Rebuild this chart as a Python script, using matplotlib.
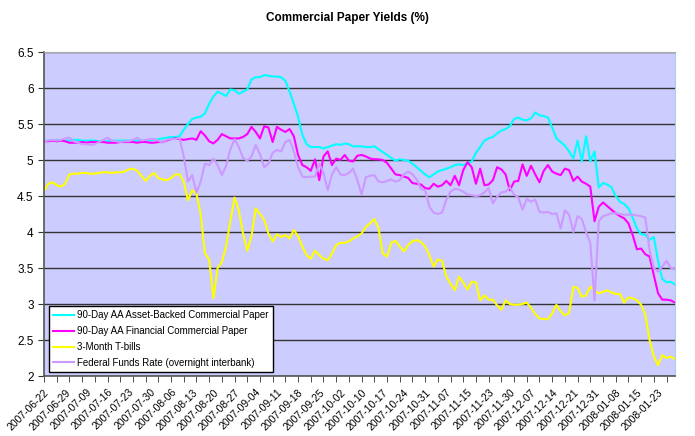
import numpy as np
import pandas as pd
import matplotlib
matplotlib.use("Agg")
import matplotlib.pyplot as plt

plt.rcParams['font.family'] = ['Liberation Sans', 'DejaVu Sans']

# business days (US bond market holidays removed)
holidays = ['2007-07-04', '2007-09-03', '2007-10-08', '2007-11-12',
            '2007-11-22', '2007-12-25', '2008-01-01', '2008-01-21']
dates = pd.bdate_range('2007-06-22', '2008-01-29', freq='C', holidays=holidays)

abcp = [5.26, 5.27, 5.27, 5.28, 5.27, 5.27, 5.27, 5.28, 5.28, 5.27,
        5.27, 5.27, 5.27, 5.26, 5.26, 5.26, 5.27, 5.27, 5.27, 5.27,
        5.27, 5.27, 5.27, 5.27, 5.27, 5.27, 5.28, 5.29, 5.30, 5.31,
        5.32, 5.32, 5.33, 5.42, 5.50, 5.57, 5.59, 5.60, 5.65, 5.78,
        5.88, 5.95, 5.92, 5.89, 5.98, 5.97, 5.92, 5.95, 5.98, 6.12,
        6.15, 6.15, 6.18, 6.17, 6.16, 6.16, 6.15, 6.10, 5.95, 5.78,
        5.60, 5.35, 5.22, 5.18, 5.18, 5.18, 5.16, 5.18, 5.20, 5.22,
        5.21, 5.23, 5.22, 5.19, 5.19, 5.19, 5.18, 5.18, 5.19, 5.15,
        5.11, 5.07, 5.03, 4.99, 5.01, 5.00, 4.99, 4.95, 4.90, 4.85,
        4.80, 4.76, 4.80, 4.84, 4.86, 4.88, 4.90, 4.93, 4.94, 4.93,
        4.95, 4.98, 5.10, 5.18, 5.27, 5.30, 5.32, 5.37, 5.41, 5.43,
        5.47, 5.57, 5.59, 5.56, 5.55, 5.58, 5.66, 5.62, 5.61, 5.59,
        5.45, 5.30, 5.25, 5.20, 5.12, 5.02, 5.27, 4.98, 5.33, 4.98,
        5.12, 4.62, 4.68, 4.66, 4.62, 4.50, 4.42, 4.39, 4.33, 4.20,
        4.05, 3.97, 3.96, 3.89, 3.93, 3.60, 3.35, 3.30, 3.31, 3.27]

fin_cp = [5.26, 5.26, 5.27, 5.26, 5.27, 5.26, 5.24, 5.24, 5.24, 5.25,
          5.24, 5.25, 5.25, 5.25, 5.25, 5.24, 5.24, 5.24, 5.25, 5.25,
          5.25, 5.25, 5.24, 5.25, 5.25, 5.24, 5.24, 5.25, 5.25, 5.27,
          5.29, 5.30, 5.29, 5.28, 5.29, 5.30, 5.28, 5.40, 5.34, 5.26,
          5.23, 5.28, 5.36, 5.33, 5.30, 5.30, 5.30, 5.32, 5.36, 5.46,
          5.39, 5.30, 5.47, 5.45, 5.25, 5.46, 5.42, 5.39, 5.43, 5.33,
          5.07, 4.93, 4.90, 4.85, 5.01, 4.72, 5.05, 5.12, 4.93, 5.02,
          5.00, 5.07, 4.99, 4.98, 5.06, 5.07, 5.05, 5.02, 5.01, 5.01,
          5.00, 4.96, 4.88, 4.80, 4.79, 4.77, 4.75, 4.68, 4.67, 4.66,
          4.61, 4.60, 4.67, 4.63, 4.65, 4.71, 4.65, 4.78, 4.65, 4.86,
          4.97, 4.90, 4.67, 4.88, 4.65, 4.66, 4.72, 4.90, 4.87, 4.80,
          4.58, 4.70, 4.71, 4.94, 4.78, 4.92, 4.80, 4.69, 4.85, 4.93,
          4.84, 4.81, 4.79, 4.88, 4.86, 4.71, 4.77, 4.70, 4.67, 4.63,
          4.15, 4.35, 4.41, 4.36, 4.31, 4.26, 4.22, 4.19, 4.12, 3.96,
          3.76, 3.77, 3.69, 3.66, 3.40, 3.15, 3.06, 3.06, 3.05, 3.02]

tbills = [4.57, 4.67, 4.69, 4.65, 4.63, 4.67, 4.80, 4.81, 4.81, 4.82,
          4.82, 4.81, 4.81, 4.82, 4.83, 4.83, 4.82, 4.83, 4.83, 4.84,
          4.87, 4.88, 4.85, 4.78, 4.71, 4.78, 4.82, 4.75, 4.73, 4.72,
          4.75, 4.80, 4.80, 4.70, 4.44, 4.58, 4.53, 4.25, 3.70, 3.62,
          3.08, 3.50, 3.58, 3.80, 4.15, 4.48, 4.30, 3.98, 3.74, 3.94,
          4.33, 4.25, 4.17, 3.98, 3.87, 3.97, 3.93, 3.96, 3.91, 4.03,
          3.94, 3.80, 3.68, 3.63, 3.74, 3.68, 3.63, 3.61, 3.70, 3.82,
          3.85, 3.85, 3.87, 3.91, 3.94, 3.98, 4.07, 4.12, 4.18, 4.05,
          3.70, 3.66, 3.85, 3.88, 3.80, 3.73, 3.82, 3.87, 3.89, 3.86,
          3.80, 3.68, 3.52, 3.62, 3.60, 3.38, 3.28, 3.19, 3.38, 3.30,
          3.20, 3.31, 3.30, 3.05, 3.12, 3.06, 3.06, 2.98, 2.92, 3.05,
          3.00, 2.99, 2.99, 3.00, 3.02, 2.95, 2.86, 2.80, 2.79, 2.79,
          2.87, 2.99, 2.90, 2.84, 2.88, 3.24, 3.22, 3.10, 3.12, 3.24,
          3.18, 3.15, 3.17, 3.19, 3.16, 3.14, 3.14, 3.02, 3.09, 3.08,
          3.05, 2.99, 2.85, 2.50, 2.27, 2.15, 2.29, 2.25, 2.27, 2.23]

fed_funds = [5.26, 5.27, 5.28, 5.27, 5.28, 5.30, 5.31, 5.26, 5.24, 5.22,
             5.22, 5.21, 5.22, 5.25, 5.28, 5.31, 5.27, 5.26, 5.25, 5.26,
             5.26, 5.28, 5.31, 5.27, 5.28, 5.29, 5.29, 5.27, 5.24, 5.28,
             5.29, 5.29, 5.31, 5.05, 4.70, 4.79, 4.55, 4.70, 4.95, 4.93,
             5.02, 4.93, 4.79, 4.92, 5.15, 5.29, 5.18, 5.03, 4.99, 5.05,
             5.21, 5.08, 4.90, 4.95, 5.10, 5.14, 5.12, 5.25, 5.28, 5.12,
             4.90, 4.77, 4.76, 4.77, 4.77, 4.95, 4.82, 4.58, 4.80, 4.90,
             4.80, 4.79, 4.82, 4.88, 4.72, 4.52, 4.76, 4.78, 4.79, 4.70,
             4.69, 4.71, 4.73, 4.70, 4.72, 4.80, 4.84, 4.80, 4.73, 4.60,
             4.58, 4.35, 4.27, 4.25, 4.27, 4.45, 4.56, 4.60, 4.59, 4.56,
             4.52, 4.51, 4.50, 4.51, 4.55, 4.61, 4.40, 4.49, 4.55, 4.56,
             4.62, 4.52, 4.48, 4.31, 4.46, 4.42, 4.45, 4.28, 4.27, 4.28,
             4.25, 4.26, 4.05, 4.30, 4.24, 4.00, 4.22, 4.18, 4.00, 3.85,
             3.05, 4.15, 4.22, 4.24, 4.26, 4.26, 4.25, 4.24, 4.24, 4.24,
             4.23, 4.22, 4.20, 3.75, 3.50, 3.45, 3.52, 3.60, 3.50, 3.48]

series_names = ['90-Day AA Asset-Backed Commercial Paper',
                '90-Day AA Financial Commercial Paper',
                '3-Month T-bills',
                'Federal Funds Rate (overnight interbank)']
series_colors = ['#00FFFF', '#FF00FF', '#FFFF00', '#CC99FF']

x = np.arange(len(dates))

fig = plt.figure(figsize=(6.95, 4.36), dpi=100)
ax = fig.add_axes([0.0633, 0.1376, 0.9079, 0.7431])
ax.set_facecolor('#CCCCFF')

for vals, name, col in zip([abcp, fin_cp, tbills, fed_funds], series_names, series_colors):
    ax.plot(x, vals, color=col, lw=1.5, label=name)

ax.set_xlim(0, len(dates) - 1)
ax.set_ylim(2, 6.5)
ax.set_yticks(np.arange(2, 6.51, 0.5))
ax.set_yticklabels(['2', '2.5', '3', '3.5', '4', '4.5', '5', '5.5', '6', '6.5'])
ax.yaxis.grid(True, color='#333333', lw=1)
ax.set_axisbelow(True)

# labels every 5 days, tick marks every 3 days
ax.set_xticks(x[::5])
ax.set_xticklabels([d.strftime('%Y-%m-%d') for d in dates[::5]],
                   rotation=45, ha='right', rotation_mode='anchor', fontsize=7.5)
ax.set_xticks(x[::3], minor=True)
ax.xaxis.remove_overlapping_locs = False
ax.tick_params(axis='x', which='major', length=0, pad=8)
ax.tick_params(axis='x', which='minor', length=4, color='#333333', direction='out')
ax.tick_params(axis='y', length=4, color='#333333', labelsize=8.5)

for s in ['left', 'bottom']:
    ax.spines[s].set_color('#555555')
    ax.spines[s].set_linewidth(1.2)
ax.spines['top'].set_color('#AAAAAA')
ax.spines['right'].set_color('#AACCEE')

leg = ax.legend(loc='lower left', bbox_to_anchor=(0.008, 0.012), borderaxespad=0,
                fancybox=False, framealpha=1, edgecolor='black', fontsize=7,
                handlelength=2.1, handletextpad=0.3, labelspacing=0.6, borderpad=0.45)
leg.get_frame().set_linewidth(1.0)

fig.text(0.5, 0.958, 'Commercial Paper Yields (%)', ha='center', va='center',
         fontsize=8.5, fontweight='bold')

fig.savefig('out.png', dpi=100)
